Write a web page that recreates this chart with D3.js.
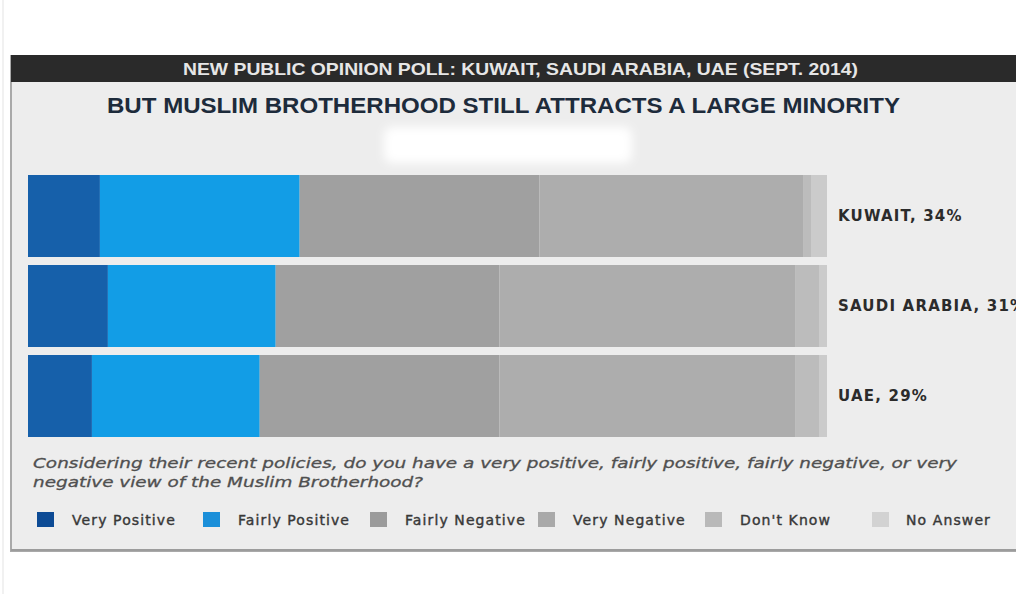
<!DOCTYPE html>
<html>
<head>
<meta charset="utf-8">
<script src="https://cdn.jsdelivr.net/npm/d3@7"></script>
<style>
  html, body { margin: 0; padding: 0; background: #fff; }
  svg { display: block; }
</style>
</head>
<body>
<div id="content"></div>
<script>
// Chart size
const width = 1016;
const height = 594;

// Data read from the poll graphic (percent of respondents)
const countries = ["KUWAIT", "SAUDI ARABIA", "UAE"];
const veryPositive = [9, 10, 8];
const fairlyPositive = [25, 21, 21];
const fairlyNegative = [30, 28, 30];
const veryNegative = [33, 37, 37];
const dontKnow = [1, 3, 3];
const noAnswer = [2, 1, 1];

const keys = ["Very Positive", "Fairly Positive", "Fairly Negative", "Very Negative", "Don't Know", "No Answer"];
const barColors = ["#1660aa", "#129de6", "#a0a0a0", "#adadad", "#bcbcbc", "#cbcbcb"];
const legendColors = ["#0d4b95", "#1b8fd9", "#9b9b9b", "#a9a9a9", "#b9b9b9", "#d2d2d2"];

const headerText = "NEW PUBLIC OPINION POLL: KUWAIT, SAUDI ARABIA, UAE (SEPT. 2014)";
const titleText = "BUT MUSLIM BROTHERHOOD STILL ATTRACTS A LARGE MINORITY";
const questionLines = [
  "Considering their recent policies, do you have a very positive, fairly positive, fairly negative, or very",
  "negative view of the Muslim Brotherhood?"
];

const rows = countries.map((c, i) => ({
  country: c,
  "Very Positive": veryPositive[i],
  "Fairly Positive": fairlyPositive[i],
  "Fairly Negative": fairlyNegative[i],
  "Very Negative": veryNegative[i],
  "Don't Know": dontKnow[i],
  "No Answer": noAnswer[i]
}));

const svg = d3.select("#content")
  .append("svg")
  .attr("width", width)
  .attr("height", height);

const defs = svg.append("defs");
defs.append("filter").attr("id", "blur")
  .attr("x", "-30%").attr("y", "-60%").attr("width", "160%").attr("height", "220%")
  .append("feGaussianBlur").attr("stdDeviation", 5);

// Panel
svg.append("rect")
  .attr("x", 2).attr("y", 0).attr("width", 2).attr("height", height)
  .attr("fill", "#f1f1f1");

svg.append("rect")
  .attr("x", 11).attr("y", 56).attr("width", width).attr("height", 495)
  .attr("fill", "#ededed")
  .attr("stroke", "#a9a9a9")
  .attr("stroke-width", 2);

svg.append("rect")
  .attr("x", 11).attr("y", 549).attr("width", width).attr("height", 2)
  .attr("fill", "#9c9c9c");

// Header bar
svg.append("rect")
  .attr("x", 11).attr("y", 55).attr("width", width).attr("height", 27)
  .attr("fill", "#2a2a2a");

svg.append("text")
  .attr("x", 183).attr("y", 75)
  .attr("textLength", 675)
  .attr("lengthAdjust", "spacingAndGlyphs")
  .attr("font-family", "'Liberation Sans Narrow', 'Liberation Sans', Arial, sans-serif")
  .attr("font-weight", "bold")
  .attr("font-size", 16.5)
  .attr("fill", "#e6e6e6")
  .text(headerText);

svg.append("text")
  .attr("x", 107).attr("y", 113)
  .attr("textLength", 793)
  .attr("lengthAdjust", "spacingAndGlyphs")
  .attr("font-family", "'Liberation Sans Narrow', 'Liberation Sans', Arial, sans-serif")
  .attr("font-weight", "bold")
  .attr("font-size", 22.5)
  .attr("fill", "#1d2b3b")
  .text(titleText);

// White smudge under the title
svg.append("rect")
  .attr("x", 384).attr("y", 127).attr("width", 248).attr("height", 36)
  .attr("rx", 8)
  .attr("fill", "#ffffff")
  .attr("filter", "url(#blur)");

// Scales
const x = d3.scaleLinear().domain([0, 100]).range([28, 827]);
const y = d3.scaleBand().domain(countries).range([175, 437]).paddingInner(8 / 90).paddingOuter(0);

const series = d3.stack().keys(keys)(rows);

const layers = svg.append("g").selectAll("g")
  .data(series)
  .join("g")
  .attr("fill", (d, i) => barColors[i]);

layers.selectAll("rect")
  .data(d => d)
  .join("rect")
  .attr("x", d => x(d[0]))
  .attr("y", d => y(d.data.country))
  .attr("width", d => x(d[1]) - x(d[0]))
  .attr("height", y.bandwidth());

// Country labels
svg.append("g").selectAll("text")
  .data(rows)
  .join("text")
  .attr("x", 838)
  .attr("y", d => y(d.country) + y.bandwidth() / 2 + 5)
  .attr("font-family", "'DejaVu Sans', Verdana, sans-serif")
  .attr("font-weight", "bold")
  .attr("font-size", 15)
  .attr("letter-spacing", 1.2)
  .attr("fill", "#2b2b2b")
  .text(d => `${d.country}, ${d["Very Positive"] + d["Fairly Positive"]}%`);

// Question
svg.append("g").selectAll("text")
  .data(questionLines)
  .join("text")
  .attr("x", 33)
  .attr("y", (d, i) => 468 + i * 19)
  .attr("textLength", (d, i) => i === 0 ? 924 : 390)
  .attr("lengthAdjust", "spacingAndGlyphs")
  .attr("font-family", "'DejaVu Sans', Verdana, sans-serif")
  .attr("font-style", "italic")
  .attr("font-size", 14.5)
  .attr("fill", "#505050")
  .attr("stroke", "#505050")
  .attr("stroke-width", 0.3)
  .text(d => d);

// Legend
const legendX = [37, 203, 370, 538, 705, 872];
const legend = svg.append("g").selectAll("g")
  .data(keys)
  .join("g")
  .attr("transform", (d, i) => `translate(${legendX[i]},512)`);

legend.append("rect")
  .attr("width", 17).attr("height", 15)
  .attr("fill", (d, i) => legendColors[i]);

legend.append("text")
  .attr("x", (d, i) => i === 5 ? 34 : 35)
  .attr("y", 13)
  .attr("font-family", "'DejaVu Sans', Verdana, sans-serif")
  .attr("font-size", 14)
  .attr("letter-spacing", 1.1)
  .attr("fill", "#383838")
  .attr("stroke", "#383838")
  .attr("stroke-width", 0.4)
  .text(d => d);
</script>
</body>
</html>
